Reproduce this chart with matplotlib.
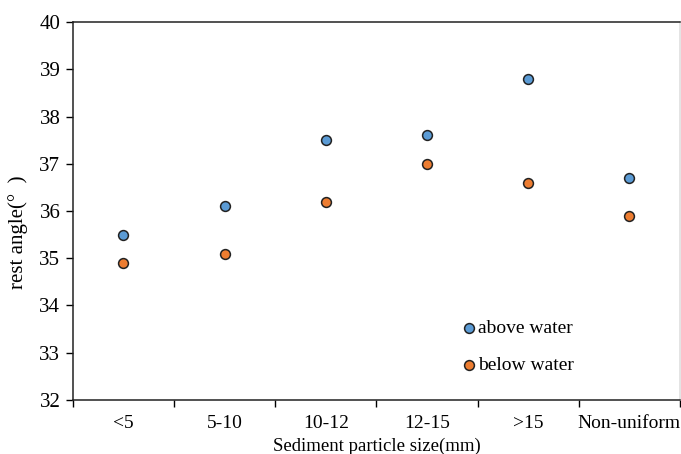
import matplotlib
matplotlib.use("Agg")
import matplotlib.pyplot as plt

categories = ["<5", "5-10", "10-12", "12-15", ">15", "Non-uniform"]
above_water = [35.5, 36.1, 37.5, 37.6, 38.8, 36.7]
below_water = [34.9, 35.1, 36.2, 37.0, 36.6, 35.9]
y_ticks = [32, 33, 34, 35, 36, 37, 38, 39, 40]

plt.rcParams['font.family'] = ['Liberation Serif', 'DejaVu Serif']

fig = plt.figure(figsize=(6.81, 4.54), dpi=100)
ax = fig.add_axes([0.107, 0.119, 0.8915, 0.8325])

xs = [i + 0.5 for i in range(len(categories))]
ax.scatter(xs, above_water, s=50, color="#5B9BD5", edgecolor="#222222", linewidth=1.1, zorder=3, label="above water")
ax.scatter(xs, below_water, s=50, color="#ED7D31", edgecolor="#222222", linewidth=1.1, zorder=3, label="below water")

ax.set_xlim(0, len(categories))
ax.set_ylim(32, 40)
ax.set_yticks(y_ticks)
ax.set_xticks(range(len(categories) + 1))
ax.set_xticklabels([])
ax.set_xticks(xs, minor=True)
ax.set_xticklabels(categories, minor=True, fontsize=14)
ax.tick_params(axis='x', which='minor', length=0, pad=11)
ax.tick_params(axis='x', which='major', length=5, direction='out', width=1)
ax.tick_params(axis='y', length=5, direction='out', width=1, labelsize=15, pad=4)

for sp in ax.spines.values():
    sp.set_linewidth(1.1)
    sp.set_color("#222222")
ax.spines['right'].set_color("#dddddd")

ax.set_xlabel("Sediment particle size(mm)", fontsize=13.5, labelpad=4)
ax.set_ylabel("rest angle(°  )", fontsize=15)
ax.yaxis.set_label_coords(-0.074, 0.445)

ax.legend(loc='lower left', bbox_to_anchor=(0.607, 0.022), frameon=False, fontsize=14,
          labelspacing=1.0, handlelength=1.0, handletextpad=0.0, markerscale=1.0, scatterpoints=1)

fig.savefig("out.png", dpi=100)
